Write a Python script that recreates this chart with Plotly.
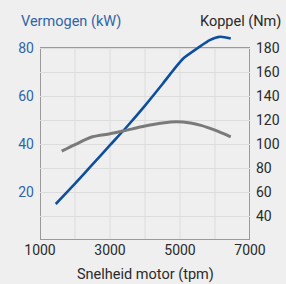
import plotly.graph_objects as go

rpm_power = [1450, 2000, 2500, 3000, 3500, 4000, 4500, 4850, 5100, 5500, 5850, 6150, 6450]
power_kw = [15, 23.5, 31.5, 39.5, 47.5, 56, 65, 71.5, 75.7, 79.9, 83.3, 84.7, 84]

rpm_torque = [1620, 2000, 2500, 3000, 3400, 4000, 4500, 4900, 5300, 5600, 6000, 6450]
torque_nm = [94, 99.5, 106, 108.5, 111, 115, 117.5, 118.5, 117.5, 115.5, 111.5, 106]

x_ticks = [1000, 3000, 5000, 7000]
x_grid = [2000, 3000, 4000, 5000, 6000]
left_ticks = [20, 40, 60, 80]
right_ticks = [40, 60, 80, 100, 120, 140, 160, 180]

BLUE_LINE = "#0d4f9e"
BLUE_TEXT = "#2f65a8"
GRAY_LINE = "#7a7a7a"
TEXT = "#2a2a2a"
BG = "#efefef"
GRID = "#dcdcdc"
FRAME = "#9a9a9a"
FONT = "Roboto"

W, H = 286, 284
ML, MR, MT, MB = 40, 36, 28, 44
pw, ph = W - ML - MR, H - MT - MB
frame_top_px = 48
kw_per_px = 80 / (H - MB - frame_top_px)
nm_per_px = 160 / (H - MB - frame_top_px)
y_top = ph * kw_per_px
y2_top = 20 + ph * nm_per_px

fig = go.Figure()
fig.add_trace(go.Scatter(x=rpm_torque, y=torque_nm, mode="lines", yaxis="y2",
                         line=dict(color=GRAY_LINE, width=3, shape="spline", smoothing=0.8),
                         hoverinfo="skip"))
fig.add_trace(go.Scatter(x=rpm_power, y=power_kw, mode="lines",
                         line=dict(color=BLUE_LINE, width=2.6, shape="spline", smoothing=0.6),
                         hoverinfo="skip"))

shapes = []
for gx in x_grid:
    shapes.append(dict(type="line", xref="x", yref="y", x0=gx, x1=gx, y0=0, y1=left_ticks[-1],
                       line=dict(color=GRID, width=1), layer="below"))
shapes.append(dict(type="rect", xref="x", yref="y", x0=x_ticks[0], x1=x_ticks[-1], y0=0, y1=left_ticks[-1],
                   line=dict(color=FRAME, width=2), layer="below"))

fig.update_layout(
    width=W, height=H,
    margin=dict(l=ML, r=MR, t=MT, b=MB),
    paper_bgcolor=BG, plot_bgcolor=BG,
    showlegend=False,
    font=dict(family=FONT, size=14, color=TEXT),
    shapes=shapes,
    xaxis=dict(range=[x_ticks[0], x_ticks[-1]], tickvals=x_ticks, ticktext=[str(v) for v in x_ticks],
               showgrid=False, showline=False, ticks="", zeroline=False, automargin=False,
               tickfont=dict(size=14, color=TEXT)),
    yaxis=dict(range=[0, y_top], tickvals=left_ticks, showgrid=False, showline=False,
               ticks="", zeroline=False, automargin=False, ticklabelstandoff=5,
               tickfont=dict(size=14, color=BLUE_TEXT)),
    yaxis2=dict(range=[20, y2_top], tickvals=right_ticks, overlaying="y", side="right",
                showgrid=True, gridcolor=GRID, gridwidth=1, showline=False,
                ticks="", zeroline=False, automargin=False, ticklabelstandoff=5,
                tickfont=dict(size=14, color=TEXT)),
)

def px(x):
    return (x - ML) / pw
def py(y):
    return (H - MB - y) / ph

fig.update_layout(annotations=[
    dict(text="Vermogen (kW)", x=px(19), y=py(22), xref="paper", yref="paper", showarrow=False,
         font=dict(size=14.5, color=BLUE_TEXT), xanchor="left", yanchor="middle"),
    dict(text="Koppel (Nm)", x=px(283), y=py(22), xref="paper", yref="paper", showarrow=False,
         font=dict(size=14.5, color=TEXT), xanchor="right", yanchor="middle"),
    dict(text="Snelheid motor (tpm)", x=px(145), y=py(274), xref="paper", yref="paper", showarrow=False,
         font=dict(size=14.5, color=TEXT), xanchor="center", yanchor="middle"),
])

fig.write_html("out.html", config={"displayModeBar": False, "staticPlot": True},
               post_script="document.body.style.margin='0';document.body.style.overflow='hidden';")
